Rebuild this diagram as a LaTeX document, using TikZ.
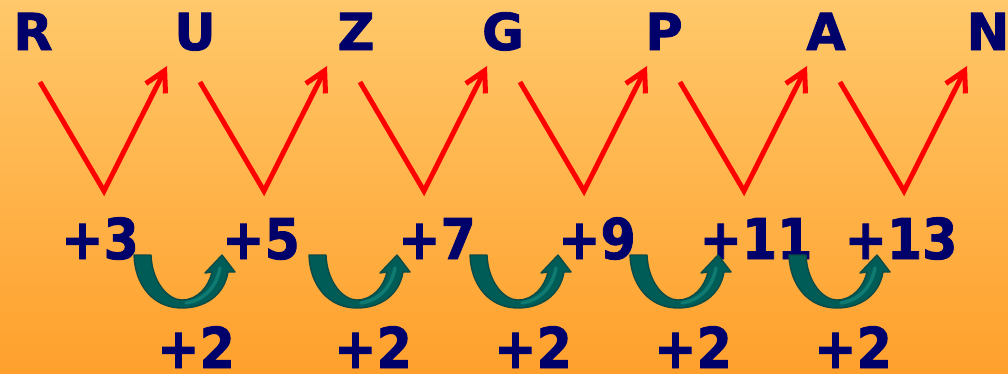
\documentclass[tikz,border=0pt]{standalone}
\usepackage{fontspec}
\setmainfont{DejaVu Sans}[BoldFeatures={FakeBold=1.6}]
\newfontfamily\numfont{DejaVu Sans}[FakeStretch=0.9, BoldFeatures={FakeBold=1.6}]
\usetikzlibrary{arrows.meta}
\definecolor{bgtop}{HTML}{FFC86A}
\definecolor{bgbot}{HTML}{FFA02C}
\definecolor{navy}{HTML}{00006B}
\definecolor{teal1}{HTML}{005C56}
\definecolor{teal2}{HTML}{0B4A45}
\definecolor{teal3}{HTML}{0E7A72}
\tikzset{
  letter/.style={text=navy, anchor=base, inner sep=0pt, font=\bfseries\fontsize{29}{30}\selectfont},
  num/.style={text=navy, anchor=base, inner sep=0pt, font=\numfont\bfseries\fontsize{32}{33}\selectfont},
  vline/.style={draw=red, line width=0.1cm, line join=miter, -{Straight Barb[length=0.4cm,width=0.44cm,line width=0.1cm]}},
  curvearrow/.style={fill=teal1, draw=teal2, line width=0.8pt, line join=round}
}
\begin{document}
\begin{tikzpicture}[x=0.02cm,y=-0.02cm]
\shade[top color=bgtop, bottom color=bgbot] (0,0) rectangle (1008,373);
\useasboundingbox (0,0) rectangle (1008,373);
% letters
\node[letter] (l1) at (33,50) {R};
\node[letter] (l2) at (195,50) {U};
\node[letter] (l3) at (356,50) {Z};
\node[letter] (l4) at (503,50) {G};
\node[letter] (l5) at (664,50) {P};
\node[letter] (l6) at (826,50) {A};
\node[letter] (l7) at (988,50) {N};
% red V arrows
\foreach \k in {0,...,5}{
  \coordinate (vs\k) at (40+160*\k,82);
  \coordinate (vb\k) at (104+160*\k,191);
  \coordinate (vt\k) at (167+160*\k,66);
  \draw[vline] (vs\k) -- (vb\k) -- (vt\k);
}
% differences
\node[num] (n1) at (100,259) {+3};
\node[num] (n2) at (261,259) {+5};
\node[num] (n3) at (437,259) {+7};
\node[num] (n4) at (597,259) {+9};
\node[num] (n5) at (756,259) {+11};
\node[num] (n6) at (901,259) {+13};
% second differences
\node[num] (p1) at (196,368) {+2};
\node[num] (p2) at (373,368) {+2};
\node[num] (p3) at (533,368) {+2};
\node[num] (p4) at (693,368) {+2};
\node[num] (p5) at (853,368) {+2};
% curved arrows
\foreach \xo in {134,309,470,630,789}{
  \begin{scope}[shift={(\xo,0)}]
  \path[curvearrow] (0,255) -- (17,255)
     .. controls (18,282) and (34,300) .. (48,300)
     .. controls (64,300) and (75,286) .. (78,272)
     -- (71,273) -- (88,255) -- (101,272) -- (94,272)
     .. controls (90,296) and (70,308) .. (48,308)
     .. controls (20,308) and (1,286) .. (0,255) -- cycle;
  \draw[teal3, line width=2pt, line cap=round] (52,303) .. controls (70,300) and (82,288) .. (86,268);
  \end{scope}
}
\end{tikzpicture}
\end{document}
